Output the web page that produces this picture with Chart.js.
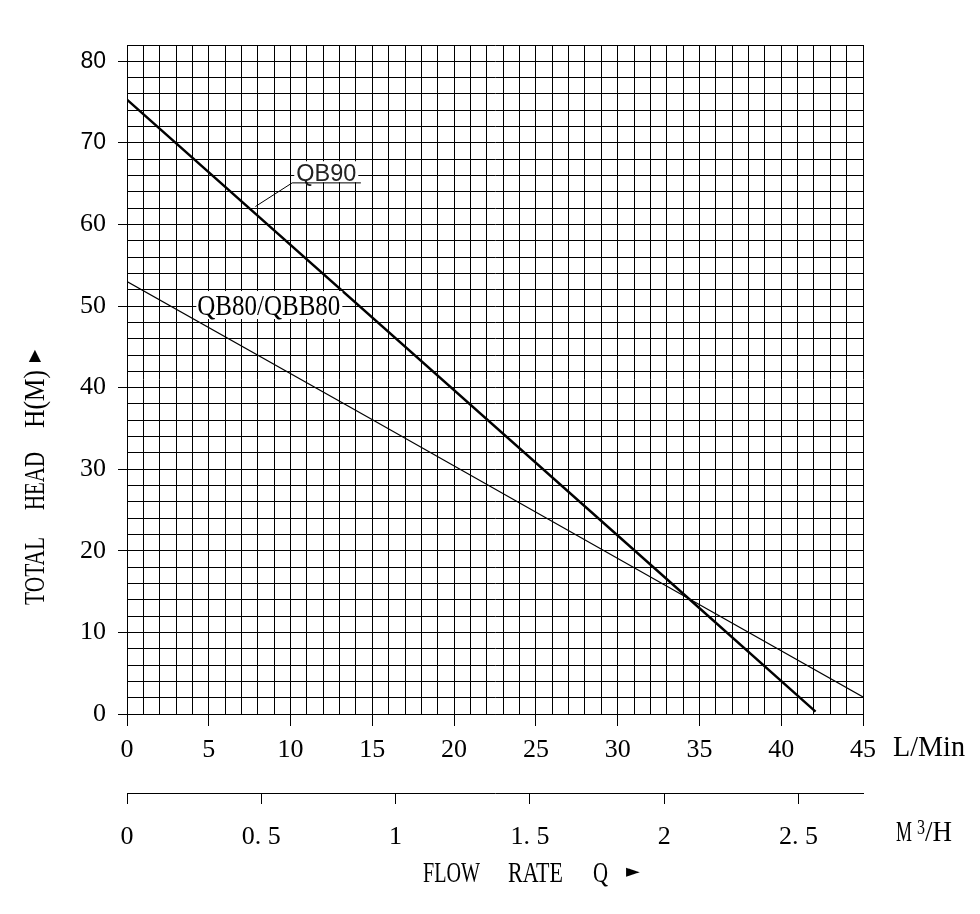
<!DOCTYPE html>
<html>
<head>
<meta charset="utf-8">
<title>QB90 / QB80 curva de bomba</title>
<script src="https://cdn.jsdelivr.net/npm/chart.js@4.4.1/dist/chart.umd.min.js"></script>
<style>
  html, body { margin: 0; padding: 0; background: #fff; }
  #wrap { width: 980px; height: 914px; }
</style>
</head>
<body>
<div id="wrap"><canvas id="pumpChart" width="980" height="914"></canvas></div>
<script>
// Valores (caudal en L/Min, altura en m)
const flowQB90 = [0, 34.2, 42.1];
const headQB90 = [75.3, 14.4, 0.3];
const flowQB80 = [0, 14.9, 34.2, 45];
const headQB80 = [53.0, 36.2, 14.3, 2.1];

// Etiquetas de los ejes
const flowTicks = [0, 5, 10, 15, 20, 25, 30, 35, 40, 45];
const headTicks = [0, 10, 20, 30, 40, 50, 60, 70, 80];
const m3hTicks = [0, 0.5, 1, 1.5, 2, 2.5];
const m3hLabels = ["0", "0. 5", "1", "1. 5", "2", "2. 5"];

const SERIF = '"Liberation Serif", "DejaVu Serif", serif';
const SANS = '"Liberation Sans", Arial, sans-serif';

/**
 * Dibuja texto comprimido horizontalmente para que ocupe un ancho dado
 */
function drawSqueezed(ctx, text, x, y, font, width, rotate) {
  ctx.save();
  ctx.font = font;
  ctx.textAlign = "left";
  ctx.textBaseline = "alphabetic";
  const w = ctx.measureText(text).width;
  ctx.translate(x, y);
  if (rotate) ctx.rotate(-Math.PI / 2);
  ctx.scale(width / w, 1);
  ctx.fillText(text, 0, 0);
  ctx.restore();
}

// Textos: títulos de ejes y rótulos de las curvas
const labelsPlugin = {
  id: "pumpLabels",
  afterDraw(chart) {
    const ctx = chart.ctx;
    const xs = chart.scales.x;
    const ys = chart.scales.y;
    ctx.save();
    ctx.fillStyle = "#000";

    // Eje Y (texto vertical)
    drawSqueezed(ctx, "TOTAL", 44, 605, "30px " + SERIF, 68, true);
    drawSqueezed(ctx, "HEAD", 44, 510, "30px " + SERIF, 58, true);
    drawSqueezed(ctx, "H(M)", 44, 428, "30px " + SERIF, 58, true);
    ctx.font = "16px DejaVu Sans";
    ctx.textAlign = "center";
    ctx.textBaseline = "middle";
    ctx.fillText("\u25B2", 35, 356);

    // Unidades del eje X
    drawSqueezed(ctx, "L/Min", 893, 756, "29px " + SERIF, 72);
    drawSqueezed(ctx, "M", 896, 841, "29px " + SERIF, 16);
    drawSqueezed(ctx, "3", 917, 834, "22px " + SERIF, 8);
    drawSqueezed(ctx, "/H", 925, 841, "29px " + SERIF, 27);

    // Título inferior
    drawSqueezed(ctx, "FLOW", 423, 882, "30px " + SERIF, 57);
    drawSqueezed(ctx, "RATE", 508, 882, "30px " + SERIF, 55);
    drawSqueezed(ctx, "Q", 593, 882, "30px " + SERIF, 15);
    ctx.font = "18px DejaVu Sans";
    ctx.textAlign = "left";
    ctx.textBaseline = "middle";
    ctx.fillText("\u25BA", 626, 872);

    // Rótulo QB80/QBB80 con fondo blanco
    const x80 = xs.getPixelForValue(4.3);
    const y80 = ys.getPixelForValue(48.9);
    ctx.fillStyle = "#fff";
    ctx.fillRect(x80 - 1, y80 - 24, 146, 28);
    ctx.fillStyle = "#000";
    drawSqueezed(ctx, "QB80/QBB80", x80, y80, "29px " + SERIF, 143);

    // Rótulo QB90 con línea guía
    const x90 = xs.getPixelForValue(10.35);
    const y90 = ys.getPixelForValue(65.3);
    ctx.fillStyle = "#fff";
    ctx.fillRect(x90 - 2, y90 - 20, 64, 21);
    ctx.fillStyle = "#222";
    drawSqueezed(ctx, "QB90", x90, y90, "24px " + SANS, 60);

    ctx.strokeStyle = "#000";
    ctx.lineWidth = 1;
    ctx.beginPath();
    ctx.moveTo(xs.getPixelForValue(7.85), ys.getPixelForValue(62.2));
    ctx.lineTo(xs.getPixelForValue(10.1), ys.getPixelForValue(65.1));
    ctx.lineTo(xs.getPixelForValue(14.3), ys.getPixelForValue(65.1));
    ctx.stroke();
    ctx.restore();
  },
};

function toPoints(xv, yv) {
  return xv.map((x, i) => ({ x: x, y: yv[i] }));
}

const pumpChart = new Chart(document.getElementById("pumpChart"), {
  type: "line",
  data: {
    datasets: [
      {
        label: "QB90",
        data: toPoints(flowQB90, headQB90),
        borderColor: "#000",
        borderWidth: 2.4,
        pointRadius: 0,
        tension: 0,
        fill: false,
      },
      {
        label: "QB80/QBB80",
        data: toPoints(flowQB80, headQB80),
        borderColor: "#000",
        borderWidth: 1.2,
        pointRadius: 0,
        tension: 0,
        fill: false,
      },
    ],
  },
  options: {
    responsive: false,
    animation: false,
    devicePixelRatio: 1,
    layout: { padding: { left: 0, top: 45, right: 117, bottom: 61 } },
    plugins: {
      legend: { display: false },
      tooltip: { enabled: false },
    },
    scales: {
      x: {
        type: "linear",
        position: "bottom",
        weight: 0,
        min: 0,
        max: 45,
        afterFit: (s) => { s.height = 79; },
        border: { color: "#000", width: 1 },
        grid: {
          color: "#000",
          lineWidth: 1,
          tickLength: 12,
          tickColor: (c) => (c.tick && flowTicks.includes(c.tick.value) ? "#000" : "rgba(0,0,0,0)"),
        },
        ticks: {
          stepSize: 1,
          autoSkip: false,
          maxRotation: 0,
          padding: 9,
          color: "#000",
          font: { family: SERIF, size: 26 },
          callback: (v) => (flowTicks.includes(v) ? String(v) : ""),
        },
      },
      x2: {
        type: "linear",
        position: "bottom",
        weight: 1,
        min: 0,
        max: 2.74,
        afterFit: (s) => { s.height = 60; },
        afterBuildTicks: (s) => { s.ticks = m3hTicks.map((v) => ({ value: v })); },
        border: { color: "#000", width: 1 },
        grid: { drawOnChartArea: false, color: "#000", tickLength: 11 },
        ticks: {
          autoSkip: false,
          maxRotation: 0,
          padding: 18,
          color: "#000",
          font: { family: SERIF, size: 26 },
          callback: (v, i) => m3hLabels[i],
        },
      },
      y: {
        type: "linear",
        min: 0,
        max: 82,
        afterFit: (s) => { s.width = 127; },
        border: { color: "#000", width: 1 },
        grid: {
          color: "#000",
          lineWidth: 1,
          tickLength: 9,
          tickColor: (c) => (c.tick && headTicks.includes(c.tick.value) ? "#000" : "rgba(0,0,0,0)"),
        },
        ticks: {
          stepSize: 2,
          autoSkip: false,
          padding: 12,
          color: "#000",
          font: (c) =>
            c.tick && c.tick.value >= 70
              ? { family: SANS, size: 23 }
              : { family: SERIF, size: 26 },
          callback: (v) => (headTicks.includes(v) ? String(v) : ""),
        },
      },
    },
  },
  plugins: [labelsPlugin],
});
</script>
</body>
</html>
